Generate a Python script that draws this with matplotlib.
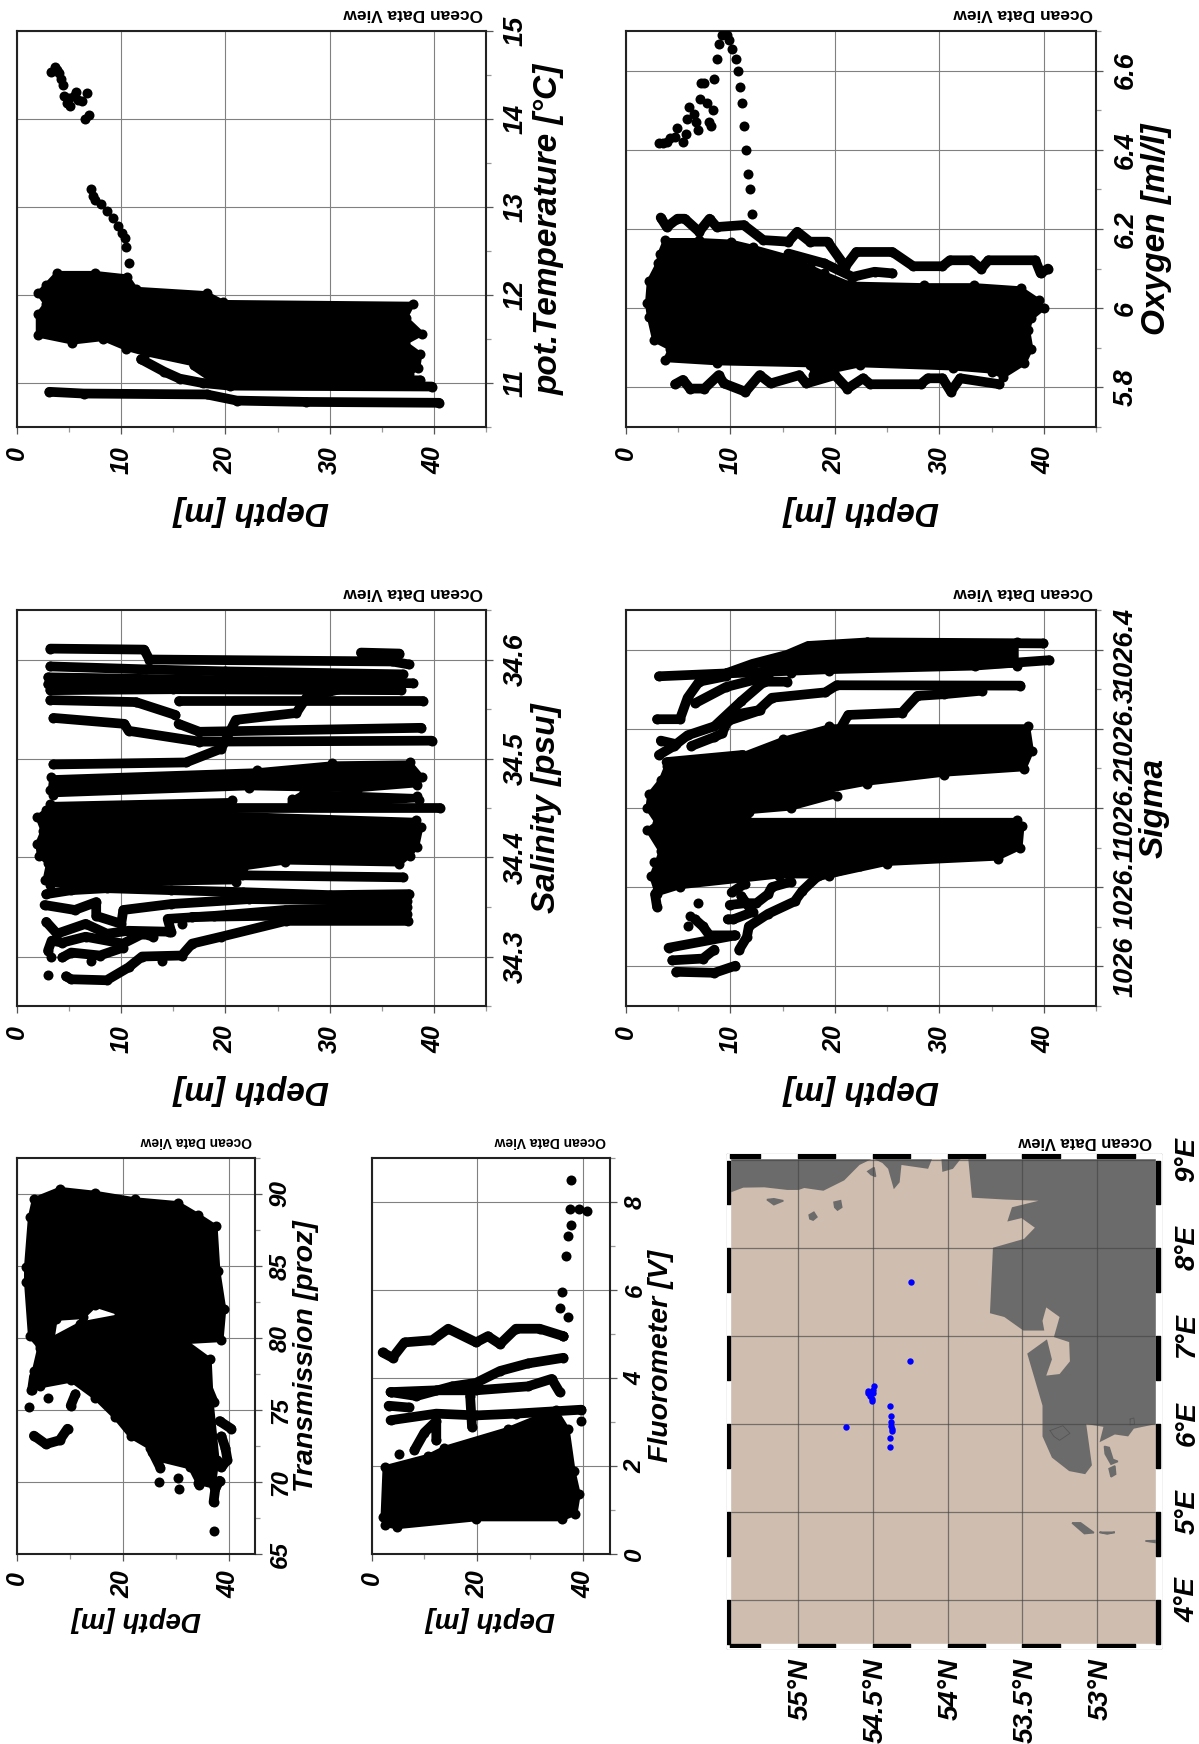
import matplotlib
matplotlib.use('Agg')
import matplotlib.pyplot as plt
from matplotlib.ticker import MultipleLocator
from matplotlib.transforms import ScaledTranslation

plt.rcParams['font.family'] = ['Liberation Sans', 'DejaVu Sans']
plt.rcParams['font.weight'] = 'bold'
plt.rcParams['font.style'] = 'italic'

W, H = 1199, 1744

# --- pot. temperature ---
temp_blob_d = [2.02,2.75,3.85,7.5,10.6,11.4,18.2,19.8,38,37.3,38.9,37.25,38.7,38.5,37.6,24,18.9,17.06,12.3,10.46,8.26,5.3,2,2,2.75]
temp_blob_v = [12.02,12.11,12.25,12.25,12.21,12.07,12.02,11.92,11.9,11.74,11.56,11.455,11.33,11.17,11.1,11.1,11.13,11.21,11.33,11.39,11.5,11.46,11.54,11.78,11.9]
temp_line1_d = [3.1,6.4,18.2,21.1,27.7,40.5]
temp_line1_v = [10.9,10.88,10.87,10.8,10.785,10.775]
temp_line2_d = [11.9,14.1,15.6,17.8,20.4,39.8]
temp_line2_v = [11.27,11.13,11.05,11,10.97,10.96]
temp_line3_d = [17,18.5,20,38.7]
temp_line3_v = [11.2,11.08,11.05,11.03]
temp_pts_d = [3.3,3.6,3.85,4.04,4.2,4.4,4.5,4.8,5.1,5,5.5,5.7,5.9,6.2,6.7,6.5,6.9,7.08,7.27,7.5,8.07,8.6,9.17,9.7,10.1,10.35,10.5,10.7]
temp_pts_v = [14.53,14.59,14.56,14.52,14.46,14.39,14.26,14.18,14.15,14.24,14.26,14.31,14.22,14.2,14.3,14.0,14.05,13.21,13.12,13.08,13.03,12.95,12.87,12.78,12.7,12.65,12.54,12.36]

# --- salinity ---
sal_main_d = [1.95,2.8,3.15,20.6,20.6,38.25,38.8,38.4,37.7,36.7,25.75,21.65,21,3.15,2.65,2.98,2.1,1.95,2.46]
sal_main_v = [34.441,34.448,34.454,34.458,34.444,34.438,34.431,34.411,34.402,34.393,34.395,34.389,34.375,34.372,34.377,34.394,34.402,34.414,34.427]
sal_band2_d = [3.3,23,30.2,37.7,38.9,38.4,32.6,22.3,3.5,3.15]
sal_band2_v = [34.481,34.488,34.495,34.496,34.481,34.473,34.468,34.47,34.463,34.468]
sal_band3_d = [26.4,27.5,38.4,38.6,32.6,26.4]
sal_band3_v = [34.459,34.466,34.462,34.458,34.454,34.456]
sal_lines = [
    ([3.2,12.2,12.7,36,37.6], [34.611,34.61,34.6,34.598,34.595]),
    ([33,36.7], [34.607,34.606]),
    ([3.2,12.4,20,37], [34.593,34.59,34.588,34.585]),
    ([3,20,38], [34.582,34.579,34.576]),
    ([3.2,15,36.8], [34.569,34.57,34.569]),
    ([3,15,36], [34.575,34.576,34.574]),
    ([3.2,11.4,15.2], [34.559,34.557,34.544]),
    ([15.5,39], [34.558,34.558]),
    ([3.5,10.3,10.7,17.5,39.8], [34.541,34.535,34.528,34.517,34.518]),
    ([15.5,17.5,38.8], [34.535,34.527,34.531]),
    ([3.5,16.2,19.6,21,26.8,27.8,32.6], [34.494,34.496,34.51,34.539,34.546,34.562,34.574]),
    ([20.6,40.6], [34.45,34.45]),
    ([21.6,37], [34.382,34.38]),
    ([2.8,5.2,8.63,14.8,21.65,30,37.6], [34.363,34.367,34.369,34.367,34.365,34.362,34.363]),
    ([2.64,5.55,7.6,7.6,10,10.2,14.8,22.3,30,37.4], [34.352,34.347,34.355,34.341,34.333,34.347,34.353,34.358,34.357,34.356]),
    ([2.81,3.84,6.58,8.63,10.69,14.8,14.45,18.9,25.76,37.4], [34.335,34.323,34.333,34.323,34.326,34.325,34.338,34.341,34.347,34.35]),
    ([2.98,3.32,4.35,6.58,10.17,12.06,13.08], [34.306,34.316,34.314,34.32,34.313,34.323,34.32]),
    ([4.35,5.2,7.95,10.17], [34.299,34.304,34.301,34.309]),
    ([4.7,5.2,8.6,10.7,12,15.8,16.8,19.6,25.8,37.5], [34.28,34.277,34.276,34.289,34.3,34.301,34.313,34.32,34.336,34.336]),
    ([16.8,37.4], [34.34,34.343]),
]
sal_pts_d = [2.98,3.22,7.09,13.94,14.62,15.82]
sal_pts_v = [34.281,34.3,34.295,34.295,34.325,34.333]

# --- transmission ---
trans_blob_d = [3.2,8.06,14.78,22.24,30.45,34.18,37.54,38.06,39.18,38.66,31.94,28.96,19.25,14.78,12.54,7.31,6.57,4.33,2.46,1.72,1.72,2.46]
trans_blob_v = [89.63,90.35,90.08,89.63,89.36,88.55,87.75,84.67,82,79.86,79.72,80.12,81.73,82.26,81.46,81.33,79.59,79.32,80.12,83.87,84.94,88.42]
trans_mid_d = [4.33,12,19.25,31.94,36.42,36.79,37.9,37.16,34.18,32.69,26.72,25.22,21.49,18.5,14.78,10.3,4.33,2.69,3.2]
trans_mid_v = [79.5,81,81.5,79.72,78.52,75.57,71.56,69.68,69.95,71.02,71.56,72.36,73.16,74.5,75.84,77.05,76.64,76.38,77.71]
trans_lines = [
    ([3.2,5.45,8.06,9.55], [73.22,72.63,72.9,73.7]),
    ([10.15,11.04], [75.3,76.1]),
    ([2.84,3.2,4.7], [76.38,77.31,77.98]),
    ([38.3,40.5], [74.23,73.7]),
    ([38.66,39.4,39.78,38.66], [73.16,72.36,71.56,71.02]),
    ([37.16,37.5,38.3], [68.6,69.55,70.09]),
    ([35.67,37.16], [76.9,75.57]),
    ([25.6,27.1], [72.1,71.0]),
]
trans_pts_d = [2.31,37.16,26.94,30.45,30.6,34.4,5.82]
trans_pts_v = [75.22,66.6,70.03,70.27,69.5,69.76,75.84]

# --- fluorometer ---
fluo_blob_d = [2.1,2.48,10.75,13.76,25.8,34.8,37.07,38.2,39.17,38.57,35.94,19.77,4.74,2.48]
fluo_blob_v = [0.83,1.97,2.23,2.41,2.84,3.28,2.84,1.88,1.36,0.92,0.79,0.79,0.61,0.66]
fluo_lines = [
    ([2.1,3.98,6.24,11.5,14.5,19.77,22,24.3,27.3,31.8,36.3], [4.58,4.46,4.81,4.86,5.12,4.81,4.95,4.77,5.12,5.12,4.95]),
    ([3.6,8.5,15.26,19.77,24.3,29.55,36.3], [3.68,3.59,3.81,3.89,4.16,4.33,4.46]),
    ([3.6,12.25,19.77,29.55,34.06,35.56], [3.68,3.72,3.72,3.81,3.98,3.68]),
    ([3.23,7], [3.37,3.33]),
    ([3.6,12.25,19.77,27.3,39.7], [3.04,3.19,3.15,3.19,3.28]),
    ([8.12,10,12.25,12.25], [2.36,2.76,3.02,2.58]),
    ([18.65,19], [3.59,2.89]),
]
fluo_pts_d = [5.11,39.7,36.3,37.2,35.56,35.94,36.7,37.07,37.8,37.44,39.3,40.8,37.67]
fluo_pts_v = [2.28,3.02,4.95,5.38,5.58,5.95,6.77,7.22,7.48,7.85,7.83,7.79,8.49]

# --- oxygen ---
oxy_blob_d = [2.19,3.05,3.22,3.73,7,10.07,12.12,15.55,17.6,19,21.4,28.56,33.36,37.8,39.5,40,38.8,38.5,38.8,38.15,36.1,35.07,31.3,22.4,17.95,17.6,8.7,3.73,4.25,2.7,2.19,2.02]
oxy_blob_v = [6.069,6.113,6.138,6.172,6.172,6.168,6.155,6.13,6.105,6.088,6.062,6.058,6.058,6.05,6.02,6,5.974,5.945,5.898,5.861,5.827,5.84,5.848,5.856,5.831,5.856,5.861,5.869,5.898,5.919,5.978,6.012]
oxy_top_d = [3.32,3.9,4.93,5.62,7,8,8.7,11.27,13.15,15.55,16.4,17.6,19.3,21,22.05,25.5,27.5,30.3,31,33,34,34.7,39.2,39.7,40.4]
oxy_top_v = [6.229,6.205,6.226,6.226,6.193,6.226,6.205,6.21,6.172,6.168,6.193,6.168,6.168,6.105,6.142,6.142,6.106,6.106,6.121,6.121,6.1,6.121,6.121,6.088,6.1]
oxy_mid_d = [15.55,19,21.7,23.8,25.5]
oxy_mid_v = [6.138,6.113,6.079,6.092,6.088]
oxy_low_d = [4.7,5.45,6.13,7.5,8.87,9.38,11.44,12.8,13.84,16.6,17.26,20,21.2,22.7,23.4,28.2,28.9,30.3,31.1,32,35.75]
oxy_low_v = [5.808,5.819,5.797,5.797,5.831,5.81,5.789,5.831,5.81,5.831,5.81,5.831,5.797,5.823,5.808,5.808,5.823,5.823,5.789,5.823,5.808]
oxy_pts_d = [3.15,3.5,3.9,4.25,4.7,4.9,5.45,5.7,5.85,6.03,6.47,6.7,6.9,7.05,7.2,7.5,7.74,7.9,8.15,8.3,8.46,8.7,8.87,9.15,9.66,9.9,10.17,10.5,10.7,10.9,11.1,11.27,11.5,11.7,11.88,12.1]
oxy_pts_v = [6.418,6.418,6.42,6.43,6.433,6.456,6.42,6.44,6.479,6.508,6.49,6.47,6.449,6.529,6.569,6.569,6.518,6.47,6.459,6.5,6.578,6.629,6.668,6.689,6.689,6.678,6.655,6.629,6.6,6.559,6.518,6.459,6.399,6.339,6.3,6.239]

# --- sigma ---
sig_blob_d = [2.05,2.23,3.33,3.88,11.03,15.05,19.45,38.5,38.86,38.13,30.44,23.11,19.45,20.18,15.79,11.76,11.57,37.4,37.95,37.77,35.57,24.95,19.45,14.69,5.16,2.97,2.42,3.33,2.05,2.97]
sig_blob_v = [1026.1994,1026.2174,1026.2355,1026.2535,1026.267,1026.2873,1026.3031,1026.3031,1026.2715,1026.249,1026.2422,1026.2309,1026.2219,1026.2152,1026.1994,1026.1949,1026.1849,1026.1849,1026.1768,1026.1498,1026.1362,1026.1295,1026.1137,1026.1137,1026.1001,1026.0911,1026.1137,1026.1452,1026.1723,1026.1813]
sig_top_d = [17.44,23.1,37.4,37.4,19.45,15.8,12.12,15.42]
sig_top_v = [1026.4046,1026.4091,1026.4091,1026.3798,1026.373,1026.3708,1026.382,1026.3933]
sig_lines = [
    ([3.15,9.56,12.12,15.42,17.44,23.11,39.96], [1026.3663,1026.3699,1026.382,1026.3933,1026.4046,1026.4091,1026.4078]),
    ([9.56,19.45,33.37,40.5], [1026.3699,1026.3753,1026.3798,1026.3866]),
    ([37.77,20.18,19.08,13.96,12.67,9.93], [1026.3545,1026.355,1026.346,1026.3392,1026.3234,1026.3166]),
    ([20.55,21.28,26.41,27.88,30.44,34.1], [1026.3009,1026.3175,1026.3203,1026.3415,1026.3437,1026.3482]),
    ([6.26,8.46,9.19,9.74,12.86], [1026.2783,1026.2896,1026.2941,1026.3099,1026.3234]),
    ([2.97,5.16,5.9,7,9.56], [1026.3121,1026.3121,1026.3392,1026.3595,1026.3663]),
    ([3.33,4.8,5.9,8.46,11.03,13.22,15.42], [1026.2851,1026.2806,1026.2918,1026.3031,1026.3347,1026.3595,1026.3595]),
    ([3.15,4.6], [1026.267,1026.2783]),
    ([3.88,11.2], [1026.258,1026.267]),
    ([6.63,9.56,13.6], [1026.3324,1026.3527,1026.3663]),
    ([2.97,2.78,3.51], [1026.0753,1026.0911,1026.1046]),
    ([4.07,10.48], [1026.0235,1026.0392]),
    ([4.43,7.36,8.46], [1026.0077,1026.0099,1026.0212]),
    ([4.8,8.46,10.48], [1025.9932,1025.9919,1026.0009]),
    ([10.84,11.57,11.76,13.59,16.15,16.89,18.35,22.38], [1026.0212,1026.037,1026.0505,1026.0663,1026.0821,1026.0956,1026.1137,1026.1272]),
    ([9.93,11.39,12.49,13.59,13.96,15.79], [1026.0776,1026.0798,1026.0798,1026.0911,1026.1001,1026.1069]),
    ([10.11,11.39], [1026.0934,1026.1046]),
    ([11.03,12.12,10.29,9.74], [1026.0889,1026.0686,1026.0595,1026.0595]),
    ([6.6,7.36,8,10.3], [1026.0595,1026.0505,1026.0392,1026.0392]),
]
sig_pts_d = [2.71,6.89,6.08,5.9]
sig_pts_v = [1026.1317,1026.0798,1026.064,1026.0505]

# --- map ---
coast_lat = [55.473,55.453,55.364,55.224,55.071,54.995,54.957,54.868,54.829,54.69,54.588,54.499,54.435,54.397,54.359,54.32,54.308,54.13,54.104,54.041,54.035,53.964,53.913,53.862,53.837,53.608,53.392,53.57,53.601,53.506,53.417,53.489,53.697,53.717,53.621,53.494,53.354,53.366,53.341,53.252,53.29,53.188,53.183,53.252,53.341,53.303,53.336,53.468,53.366,53.366,53.303,53.188,53.081,53.036,53.074,52.959,52.985,52.883,52.794,52.756,52.608,52.608]
coast_lon = [9.03,8.628,8.685,8.689,8.659,8.659,8.681,8.659,8.65,8.768,8.943,9.017,8.965,8.899,8.667,8.746,8.943,8.899,9.01,9.01,8.864,8.899,9.01,9.017,8.571,8.549,8.536,8.462,8.3,8.339,8.23,8.103,8.002,7.258,7.215,7.061,7.061,7.171,7.324,7.215,6.987,6.93,6.711,6.567,6.549,6.733,6.961,6.799,6.208,5.858,5.617,5.464,5.429,5.53,5.998,5.967,5.792,5.88,5.858,5.946,5.998,9.03]
islands = [
    ([55.206,55.16,55.097,55.16], [8.549,8.558,8.536,8.492]),
    ([54.758,54.715,54.707,54.735,54.753], [8.519,8.536,8.462,8.431,8.462]),
    ([54.924,54.893,54.873,54.898,54.919], [8.374,8.405,8.352,8.317,8.331]),
    ([54.532,54.491,54.481,54.511], [8.869,8.913,8.812,8.834]),
    ([52.952,52.921,52.896,52.863,52.908,52.947], [5.744,5.731,5.596,5.574,5.543,5.66]),
    ([52.921,52.883,52.878,52.908], [5.491,5.522,5.429,5.399]),
    ([53.168,53.112,53.023,53.086], [4.875,4.875,4.764,4.754]),
    ([52.985,52.883,52.934], [4.768,4.768,4.75]),
    ([52.679,52.608,52.608], [4.67,4.674,4.652]),
]
lakes = [
    ([53.316,53.23,53.183,53.252,53.29,53.316], [5.924,5.98,5.893,5.814,5.858,5.924]),
    ([52.781,52.756,52.751,52.781,52.781], [6.055,6.068,5.998,5.989,6.055]),
]
station_lat = [54.244,54.249,54.677,54.494,54.499,54.529,54.529,54.499,54.517,54.506,54.506,54.387,54.379,54.379,54.379,54.374,54.374,54.382,54.382]
station_lon = [7.613,6.72,5.967,6.435,6.383,6.374,6.348,6.348,6.322,6.287,6.265,6.199,6.094,6.024,5.98,5.945,5.915,5.836,5.735]
lat_ticks = [55,54.5,54,53.5,53]
lat_labels = ['55°N','54.5°N','54°N','53.5°N','53°N']
lon_ticks = [4,5,6,7,8,9]
lon_labels = ['4°E','5°E','6°E','7°E','8°E','9°E']

fig = plt.figure(figsize=(W/100, H/100), dpi=100)

def make_ax(x0, x1, y0, y1):
    return fig.add_axes([x0/W, 1-y1/H, (x1-x0)/W, (y1-y0)/H])

def px_text(x, y, s, **kw):
    fig.text(x/W, 1-y/H, s, ha='center', va='center', **kw)

def panel(box, vlim, vmajor, vminor, dmajor, label, label_off, narrow=False, ticks_fmt=None):
    x0, x1, y0, y1 = box
    ax = make_ax(*box)
    ax.set_xlim(0, 45)
    ax.set_ylim(*vlim)
    ax.xaxis.set_major_locator(MultipleLocator(dmajor))
    ax.xaxis.set_minor_locator(MultipleLocator(dmajor/2))
    ax.yaxis.set_major_locator(MultipleLocator(vmajor))
    ax.yaxis.set_minor_locator(MultipleLocator(vminor))
    ax.yaxis.tick_right()
    ax.grid(True, which='major', color='#808080', lw=0.8, zorder=1)
    ax.set_axisbelow(True)
    ax.tick_params(axis='both', which='major', length=5, width=0.9, color='#555555')
    ax.tick_params(axis='both', which='minor', length=3.5, width=0.9, color='#999999')
    ax.tick_params(axis='x', labelsize=18, labelrotation=90, pad=7 if narrow else 9)
    ax.tick_params(axis='y', labelsize=17.5 if narrow else 19.5, labelrotation=90, pad=5 if narrow else 7)
    if ticks_fmt:
        ax.yaxis.set_major_formatter(ticks_fmt)
    for t in ax.get_yticklabels():
        t.set_va('center')
    for s in ax.spines.values():
        s.set_linewidth(1.5)
        s.set_color('#222222')
    px_text((x0+x1)/2, y1+(65 if narrow else 83), 'Depth [m]', fontsize=20 if narrow else 24, rotation=180)
    px_text(x1+label_off, (y0+y1)/2, label, fontsize=20.5 if narrow else 24, rotation=90)
    ax.annotate('Ocean Data View', xy=(1, 1), xycoords='axes fraction', xytext=(-2.5, 7),
                textcoords='offset points', rotation=180, ha='right', va='bottom',
                fontsize=10 if narrow else 12.5, fontstyle='normal')
    return ax

def blob(ax, d, v):
    ax.fill(d, v, color='k', lw=3, joinstyle='round', zorder=3)
    ax.plot(d, v, 'o', color='k', ms=7.2, mew=0, zorder=3)

def line(ax, d, v):
    ax.plot(d, v, '-o', color='k', lw=7, ms=7.2, mew=0, solid_capstyle='round', solid_joinstyle='round', zorder=3)

def pts(ax, d, v):
    ax.plot(d, v, 'o', color='k', ms=7.2, mew=0, zorder=3)

# pot. temperature
ax = panel((17, 486, 31, 427), (10.5, 15), 1, 0.5, 10, 'pot.Temperature [°C]', 63)
blob(ax, temp_blob_d, temp_blob_v)
line(ax, temp_line1_d, temp_line1_v)
line(ax, temp_line2_d, temp_line2_v)
line(ax, temp_line3_d, temp_line3_v)
pts(ax, temp_pts_d, temp_pts_v)

# oxygen
ax = panel((626, 1096, 31, 427), (5.7, 6.7), 0.2, 0.1, 10, 'Oxygen [ml/l]', 60,
           ticks_fmt=lambda v, p: f'{v:g}')
blob(ax, oxy_blob_d, oxy_blob_v)
line(ax, oxy_top_d, oxy_top_v)
line(ax, oxy_mid_d, oxy_mid_v)
line(ax, oxy_low_d, oxy_low_v)
pts(ax, oxy_pts_d, oxy_pts_v)

# salinity
ax = panel((17, 486, 610, 1006), (34.25, 34.65), 0.1, 0.05, 10, 'Salinity [psu]', 60,
           ticks_fmt=lambda v, p: f'{v:g}')
blob(ax, sal_main_d, sal_main_v)
blob(ax, sal_band2_d, sal_band2_v)
blob(ax, sal_band3_d, sal_band3_v)
for d, v in sal_lines:
    line(ax, d, v)
pts(ax, sal_pts_d, sal_pts_v)

# sigma
ax = panel((626, 1096, 610, 1006), (1025.95, 1026.45), 0.1, 0.05, 10, 'Sigma', 58,
           ticks_fmt=lambda v, p: f'{v:.1f}'.rstrip('0').rstrip('.'))
blob(ax, sig_blob_d, sig_blob_v)
blob(ax, sig_top_d, sig_top_v)
for d, v in sig_lines:
    line(ax, d, v)
pts(ax, sig_pts_d, sig_pts_v)

# transmission
ax = panel((17, 255, 1158, 1554), (65, 92.5), 5, 2.5, 20, 'Transmission [proz]', 51, narrow=True)
blob(ax, trans_blob_d, trans_blob_v)
blob(ax, trans_mid_d, trans_mid_v)
for d, v in trans_lines:
    line(ax, d, v)
pts(ax, trans_pts_d, trans_pts_v)

# fluorometer
ax = panel((371.5, 609.5, 1158, 1554), (0, 9), 2, 1, 20, 'Fluorometer [V]', 52, narrow=True)
blob(ax, fluo_blob_d, fluo_blob_v)
for d, v in fluo_lines:
    line(ax, d, v)
pts(ax, fluo_pts_d, fluo_pts_v)

# map
ax = make_ax(727, 1160.5, 1154.3, 1648.3)
ax.set_xlim(55.473, 52.578)
ax.set_ylim(3.45, 9.064)
ax.set_facecolor('#cfbdaf')
ax.fill(coast_lat, coast_lon, color='#6b6b6b', lw=0, zorder=2)
for la, lo in islands:
    ax.fill(la, lo, color='#6b6b6b', ec='#6b6b6b', lw=1.2, zorder=2)
for la, lo in lakes:
    ax.plot(la, lo, color='#555555', lw=0.6, zorder=2)
for la in lat_ticks:
    ax.axvline(la, color='#444444', lw=0.9, alpha=0.65, zorder=3)
for lo in lon_ticks:
    ax.axhline(lo, color='#444444', lw=0.9, alpha=0.65, zorder=3)
ax.plot(station_lat, station_lon, 'o', color='#0000ff', ms=4.6, mew=0, zorder=4)
# checker border
ax.broken_barh([(52.578, 2.895)], (9.022, 0.042), color='w', zorder=5)
ax.broken_barh([(52.578, 2.895)], (3.45, 0.045), color='w', zorder=5)
ax.broken_barh([(55.453, 0.02)], (3.45, 5.614), color='w', zorder=5)
ax.broken_barh([(52.578, 0.03)], (3.45, 5.614), color='w', zorder=5)
lat_black = [(55.25, 0.203), (54.75, 0.25), (54.25, 0.25), (53.75, 0.25), (53.25, 0.25), (52.75, 0.25)]
lon_black = [(3.495, 0.505), (4.5, 0.5), (5.5, 0.5), (6.5, 0.5), (7.5, 0.5), (8.5, 0.49)]
ax.broken_barh(lat_black, (9.022, 0.04), color='k', zorder=6)
ax.broken_barh(lat_black, (3.455, 0.04), color='k', zorder=6)
for y0, h in lon_black:
    ax.broken_barh([(55.453, 0.018)], (y0, h), color='k', zorder=6)
    ax.broken_barh([(52.581, 0.027)], (y0, h), color='k', zorder=6)
ax.set_xticks(lat_ticks, lat_labels)
ax.set_yticks(lon_ticks, lon_labels)
ax.yaxis.tick_right()
ax.tick_params(axis='both', length=0)
ax.tick_params(axis='x', labelsize=20, labelrotation=90, pad=7)
ax.tick_params(axis='y', labelsize=20, labelrotation=90, pad=10)
nudge = ScaledTranslation(3/100, 0, fig.dpi_scale_trans)
for t in ax.get_xticklabels():
    t.set_transform(t.get_transform() + nudge)
for t in ax.get_yticklabels():
    t.set_va('center')
for s in ax.spines.values():
    s.set_linewidth(0.9)
    s.set_color('#999999')
ax.annotate('Ocean Data View', xy=(1, 1), xycoords='axes fraction', xytext=(-6, 4),
            textcoords='offset points', rotation=180, ha='right', va='bottom',
            fontsize=12, fontstyle='normal')

fig.savefig('out.png', dpi=100)
